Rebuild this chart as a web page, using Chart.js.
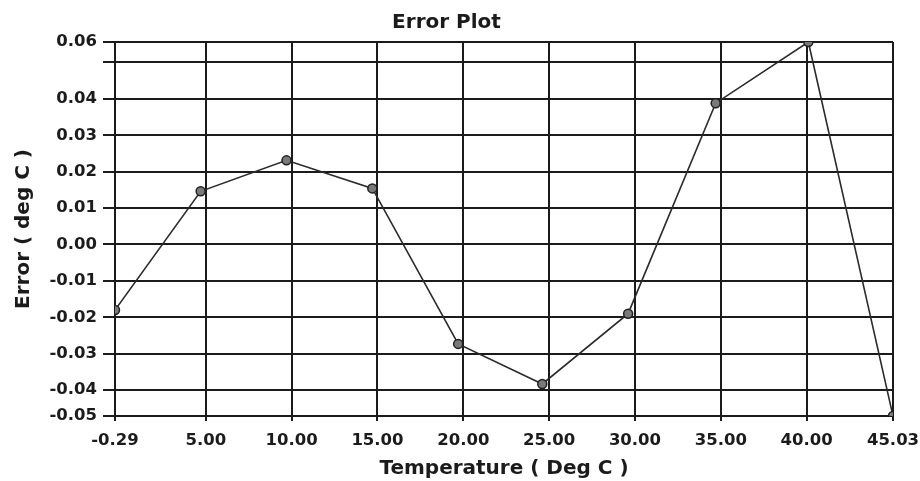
<!DOCTYPE html>
<html>
<head>
<meta charset="utf-8">
<script src="https://cdn.jsdelivr.net/npm/chart.js@4.4.1/dist/chart.umd.min.js"></script>
<style>
  html, body { margin: 0; padding: 0; background: #fff; }
  #wrap { width: 920px; height: 481px; position: relative; }
</style>
</head>
<body>
<div id="wrap"><canvas id="grafico"></canvas></div>
<script>
// Dados
const temps = [-0.29, 4.7, 9.7, 14.7, 19.7, 24.6, 29.6, 34.7, 40.1, 45.03];
const errors = [-0.018, 0.0146, 0.0231, 0.0154, -0.0273, -0.0383, -0.019, 0.0388, 0.0556, -0.0471];

// Marcas dos eixos (extremos = faixa dos dados)
const xTicks = [-0.29, 5, 10, 15, 20, 25, 30, 35, 40, 45.03];
const yTicks = [-0.0471, -0.04, -0.03, -0.02, -0.01, 0, 0.01, 0.02, 0.03, 0.04, 0.05, 0.0556];
const hiddenY = [0.05];

const ink = '#1b1b1b';
const tickFont = { family: 'DejaVu Sans', size: 16.5, weight: 'bold' };
const titleFont = { family: 'DejaVu Sans', size: 20, weight: 'bold' };

const pontos = temps.map((t, i) => ({ x: t, y: errors[i] }));

const ctx = document.getElementById('grafico').getContext('2d');
new Chart(ctx, {
  type: 'scatter',
  data: {
    datasets: [{
      data: pontos,
      showLine: true,
      borderColor: '#2a2a2a',
      borderWidth: 1.6,
      pointRadius: 4.5,
      pointBackgroundColor: '#7a7a7a',
      pointBorderColor: '#202020',
      pointBorderWidth: 1.5,
      tension: 0
    }]
  },
  options: {
    responsive: true,
    maintainAspectRatio: false,
    devicePixelRatio: 1,
    animation: false,
    layout: { padding: { left: 0, right: 27, top: 0, bottom: 0 } },
    plugins: {
      legend: { display: false },
      tooltip: { enabled: false },
      title: {
        display: true,
        text: 'Error Plot',
        color: ink,
        font: titleFont,
        padding: { top: 11, bottom: 7 }
      }
    },
    scales: {
      x: {
        type: 'linear',
        min: xTicks[0],
        max: xTicks[xTicks.length - 1],
        afterBuildTicks: (scale) => { scale.ticks = xTicks.map(v => ({ value: v })); },
        afterFit: (scale) => {
          scale.height = 65;
          scale.paddingLeft = 0;
          scale.paddingRight = 0;
        },
        border: { color: ink, width: 2 },
        grid: { color: ink, lineWidth: 2, tickLength: 5 },
        ticks: {
          color: ink,
          font: tickFont,
          padding: 10,
          maxRotation: 0,
          autoSkip: false,
          callback: (v) => Number(v).toFixed(2)
        },
        title: {
          display: true,
          text: 'Temperature ( Deg C )',
          color: ink,
          font: titleFont,
          padding: { top: 0, bottom: 0 }
        }
      },
      y: {
        type: 'linear',
        min: yTicks[0],
        max: yTicks[yTicks.length - 1],
        afterBuildTicks: (scale) => { scale.ticks = yTicks.map(v => ({ value: v })); },
        afterFit: (scale) => { scale.width = 115; },
        border: { color: ink, width: 2 },
        grid: { color: ink, lineWidth: 2, tickLength: 12 },
        ticks: {
          color: ink,
          font: tickFont,
          padding: 6,
          autoSkip: false,
          callback: (v) => hiddenY.some(h => Math.abs(h - v) < 1e-9) ? '' : Number(v).toFixed(2)
        },
        title: {
          display: true,
          text: 'Error ( deg C )',
          color: ink,
          font: titleFont,
          padding: { top: 12, bottom: 0 }
        }
      }
    }
  }
});
</script>
</body>
</html>
